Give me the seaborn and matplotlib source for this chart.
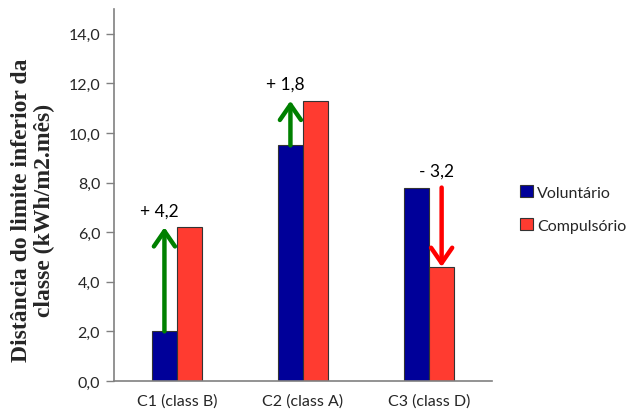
import matplotlib
matplotlib.use("Agg")
import matplotlib.pyplot as plt
import seaborn as sns
import pandas as pd

# Data
categories = ["C1 (class B)", "C2 (class A)", "C3 (class D)"]
voluntario = [2.0, 9.5, 7.8]
compulsorio = [6.2, 11.3, 4.6]
series_names = ["Voluntário", "Compulsório"]
differences = ["+ 4,2", "+ 1,8", "- 3,2"]
y_ticks = [0, 2, 4, 6, 8, 10, 12, 14]

df = pd.DataFrame({
    "categoria": categories * 2,
    "valor": voluntario + compulsorio,
    "serie": [series_names[0]] * 3 + [series_names[1]] * 3,
})

sns.set_theme(style="white")
plt.rcParams["font.family"] = ["Lato", "DejaVu Sans"]

fig = plt.figure(figsize=(6.3, 4.14), dpi=100)
ax = fig.add_axes([0.181, 0.0773, 0.6, 0.8985])

palette = {"Voluntário": "#000099", "Compulsório": "#FF3B30"}
sns.barplot(data=df, x="categoria", y="valor", hue="serie", palette=palette,
            width=0.4, edgecolor="#333333", linewidth=0.8, saturation=1,
            ax=ax, legend=True)

ax.set_xlim(-0.5, 2.5)
ax.set_ylim(0, 15)
ax.set_yticks(y_ticks)
ax.set_yticklabels([f"{v:.1f}".replace(".", ",") for v in y_ticks], fontsize=11.5)
ax.tick_params(axis="y", length=6, width=1, color="#808080", pad=4, left=True)
ax.tick_params(axis="x", length=0, labelsize=11.5, pad=9)
ax.set_xlabel("")
ax.set_ylabel("Distância do limite inferior da\nclasse (kWh/m2.mês)",
              family=["Liberation Serif"], fontweight="bold", fontsize=17,
              linespacing=1.1, va="center", ha="center")
ax.yaxis.set_label_coords(-0.215, 0.462)

for side in ["top", "right"]:
    ax.spines[side].set_visible(False)
for side in ["left", "bottom"]:
    ax.spines[side].set_color("#808080")
    ax.spines[side].set_linewidth(1.2)

# Change arrows between the two scenarios
offset = 0.1
for i, (v, c, txt) in enumerate(zip(voluntario, compulsorio, differences)):
    if c >= v:
        x = i - offset
        color = "#008000"
    else:
        x = i + offset
        color = "#FF0000"
    ax.annotate("", xy=(x, c), xytext=(x, v),
                arrowprops=dict(arrowstyle="->,head_length=0.55,head_width=0.38",
                                color=color, lw=3.2, mutation_scale=20,
                                shrinkA=0, shrinkB=0))
    top = max(v, c)
    ax.text(x - 0.04, top + 0.35, txt, ha="center", va="bottom", fontsize=12.5,
            color="black")

handles, labels = ax.get_legend_handles_labels()
ax.get_legend().remove()
fig.legend(handles, labels, loc="center left", bbox_to_anchor=(0.815, 0.493),
           frameon=False, fontsize=11.5, handlelength=0.8, handleheight=0.8,
           handletextpad=0.3, labelspacing=1.15, borderaxespad=0)

fig.savefig("out.png", dpi=100)
